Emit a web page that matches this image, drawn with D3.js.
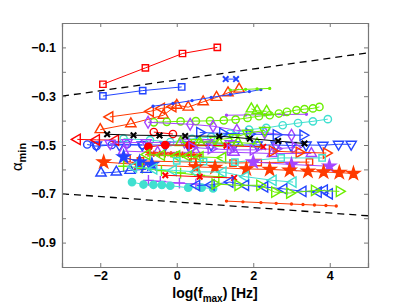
<!DOCTYPE html>
<meta charset="utf-8">
<style>
body { margin: 0; background: #fff; }
svg text { font-family: "Liberation Sans", Arial, sans-serif; font-weight: bold; fill: #000; }
.axis path, .axis line { stroke: #777; }
</style>
<svg width="407" height="307"></svg>
<script src="https://d3js.org/d3.v7.min.js"></script>
<script>

// the curves: [log f_max, alpha_min]
var redSq      = [[-1.93,-0.251],[-0.82,-0.184],[0.15,-0.125],[1.06,-0.100]];
var blueSq     = [[-1.93,-0.299],[-0.89,-0.277],[0.13,-0.262]];
var blueX      = [[1.28,-0.230],[1.55,-0.230]];
var orTri      = [[-2.0,-0.437],[-1.2,-0.413],[-0.35,-0.378],[0.0,-0.337],[0.3,-0.345],[0.69,-0.323],[1.04,-0.305],[1.34,-0.286],[1.63,-0.271]];
var orLeft     = [[-1.75,-0.385],[-0.69,-0.362],[-0.4,-0.35],[-0.1,-0.343]];
var blueDot    = [[-0.62,-0.341],[-0.1,-0.330],[0.4,-0.318],[0.9,-0.305],[1.4,-0.293],[1.9,-0.281],[2.2,-0.273]];
var greenDot   = [[1.4,-0.275],[1.8,-0.272],[2.1,-0.270],[2.43,-0.268]];
var greenCirc  = [[-0.6,-0.407],[-0.26,-0.405],[0.1,-0.403],[0.5,-0.402],[0.87,-0.401],[1.23,-0.399],[1.54,-0.396],[1.85,-0.389],[2.15,-0.382],[2.43,-0.378],[2.67,-0.371],[2.88,-0.364],[3.13,-0.357],[3.34,-0.353],[3.56,-0.350],[3.73,-0.344]];
var greenTri   = [[1.95,-0.352],[2.1,-0.36],[2.35,-0.362]];
var purpleDot  = [[1.3,-0.378],[1.8,-0.377],[2.3,-0.376],[2.8,-0.375],[3.39,-0.374]];
var purpleDia  = [[-0.75,-0.407],[0.35,-0.415],[0.95,-0.423],[1.57,-0.44],[2.3,-0.45],[3.0,-0.46]];
var cyanCirc   = [[-1.39,-0.474],[-0.7,-0.48],[-0.17,-0.488],[0.4,-0.475],[0.9,-0.467],[1.39,-0.453],[1.89,-0.437],[2.34,-0.430],[2.77,-0.419],[3.17,-0.410],[3.56,-0.403],[3.95,-0.394]];
var blueRight  = [[0.6,-0.449],[1.2,-0.452],[1.9,-0.455],[2.6,-0.458],[3.3,-0.460]];
var blackX     = [[-1.82,-0.456],[-1.13,-0.460],[-0.45,-0.461],[0.22,-0.463],[1.11,-0.464],[1.91,-0.474],[2.65,-0.484],[3.34,-0.494]];
var redCircO   = [[-0.6,-0.447],[-0.1,-0.455]];
var greenDown  = [[0.5,-0.49],[1.0,-0.48],[1.5,-0.47],[1.85,-0.452],[2.3,-0.44]];
var greenUp    = [[0.1,-0.49],[0.6,-0.49],[1.1,-0.492],[1.6,-0.49],[2.1,-0.495]];
var redLeft    = [[-2.6,-0.477],[-2.1,-0.479],[-1.6,-0.48]];
var blueDown   = [[-2.1,-0.5],[-1.5,-0.5],[-0.9,-0.5],[-0.3,-0.5],[0.3,-0.5],[0.9,-0.5],[1.5,-0.5],[2.1,-0.5],[2.6,-0.5],[2.99,-0.502],[3.38,-0.5],[3.82,-0.501],[4.23,-0.497],[4.56,-0.497]];
var blueCirc   = [[-2.34,-0.498],[-2.1,-0.505],[-1.7,-0.5],[-1.3,-0.497],[-0.9,-0.5]];
var purpleDown = [[-1.74,-0.494],[-1.3,-0.49],[-0.8,-0.49],[0.2,-0.488],[0.8,-0.49],[1.4,-0.495]];
var redCircF   = [[-0.74,-0.508],[-0.3,-0.5],[0.33,-0.501]];
var redXline   = [[0.4,-0.5],[1.3,-0.503],[2.26,-0.508]];
var purpleRight= [[0.4,-0.51],[0.9,-0.515],[1.4,-0.52],[2.0,-0.52],[2.6,-0.515],[3.1,-0.51]];
var purpleUp   = [[-1.39,-0.525],[-0.5,-0.53],[0.5,-0.53],[1.5,-0.53],[2.5,-0.535],[3.52,-0.535]];
var redDia     = [[2.5,-0.525],[3.2,-0.53],[3.91,-0.533]];
var redAst     = [[-0.75,-0.535],[-0.6,-0.536],[-0.45,-0.537],[-0.3,-0.538],[-0.15,-0.538],[0.0,-0.539],[0.15,-0.54],[0.3,-0.541],[0.45,-0.542],[0.6,-0.543]];
var greenLeft  = [[-0.78,-0.539],[-0.4,-0.542],[0.0,-0.545],[0.3,-0.547],[0.61,-0.549],[1.2,-0.552]];
var redSq2     = [[-1.3,-0.556],[-0.95,-0.565],[0.42,-0.57],[1.47,-0.574],[2.13,-0.572],[3.47,-0.57]];
var cyanSq     = [[0.0,-0.565],[0.7,-0.568],[1.52,-0.57],[2.73,-0.553],[3.8,-0.553]];
var purpleStar = [[2.0,-0.57],[3.0,-0.58],[3.99,-0.587]];
var blueStar   = [[-1.39,-0.549],[-0.97,-0.57],[-0.65,-0.58]];
var orStar     = [[-1.91,-0.57],[-1.0,-0.58],[0.5,-0.59],[1.0,-0.592],[1.82,-0.598],[2.43,-0.6],[2.95,-0.604],[3.43,-0.608],[3.84,-0.611],[4.25,-0.613],[4.62,-0.617]];
var greenPlus  = [[-1.39,-0.587],[-0.9,-0.595],[-0.4,-0.605],[0.1,-0.615],[0.6,-0.625],[1.1,-0.63]];
var blueUp     = [[-1.98,-0.615],[-1.58,-0.611],[-1.22,-0.604],[-0.8,-0.6]];
var cyanLeft   = [[-1.13,-0.59],[-0.6,-0.598],[-0.09,-0.604],[0.5,-0.61],[1.21,-0.611],[1.8,-0.63],[2.52,-0.645],[3.04,-0.652]];
var redX       = [[-0.3,-0.624],[0.6,-0.63],[1.5,-0.635]];
var purplePlus = [[-0.74,-0.645],[-0.43,-0.649],[0.07,-0.656],[0.5,-0.66]];
var cyanDot    = [[-1.17,-0.652],[-0.87,-0.662],[-0.61,-0.663],[-0.39,-0.664],[-0.17,-0.667],[0.3,-0.675],[0.65,-0.675],[0.95,-0.678]];
var blueLeft   = [[0.52,-0.666],[0.9,-0.663],[1.39,-0.652],[1.8,-0.665],[2.3,-0.672],[2.8,-0.68],[3.3,-0.69],[3.7,-0.693],[3.86,-0.685],[3.99,-0.7]];
var greenRight = [[1.0,-0.66],[1.6,-0.665],[2.17,-0.665],[2.56,-0.693],[2.95,-0.697],[3.6,-0.686],[4.25,-0.69]];
var redDot     = [[1.3,-0.73],[1.73,-0.733],[2.2,-0.736],[2.6,-0.739],[3.0,-0.742],[3.3,-0.744],[3.6,-0.746],[3.9,-0.748],[4.17,-0.75]];

// the two dashed bounds
var upperBound = [[-3,-0.3],[5,-0.122]];
var lowerBound = [[-3,-0.7],[5,-0.79]];

var xTicks = [-2, 0, 2, 4];
var yTicks = [-1, -0.9, -0.8, -0.7, -0.6, -0.5, -0.4, -0.3, -0.2, -0.1, 0];
var yLabelled = [-0.9, -0.7, -0.5, -0.3, -0.1];

var RED = "#ff0000", ORANGE = "#ff3a00", BLUE = "#2244ff", GREEN = "#6cee00",
    PURPLE = "#a544ff", CYAN = "#40e0d0";

// data, colour, marker
var series = [
  [redDot, ORANGE, "dot"],
  [blueDown, BLUE, "down"],
  [blueCirc, BLUE, "circle"],
  [redLeft, RED, "left"],
  [orTri, ORANGE, "up"],
  [orLeft, ORANGE, "left"],
  [blueDot, BLUE, "dot"],
  [greenDot, GREEN, "dot"],
  [purpleDot, PURPLE, "dot"],
  [greenCirc, GREEN, "circle"],
  [greenTri, GREEN, "up"],
  [purpleDia, PURPLE, "diamond"],
  [cyanCirc, CYAN, "circle"],
  [blueRight, BLUE, "right"],
  [redCircO, RED, "circle"],
  [greenDown, GREEN, "down"],
  [purpleDown, PURPLE, "down"],
  [greenUp, GREEN, "up"],
  [blackX, "#000", "x"],
  [redCircF, RED, "fcircle"],
  [redXline, RED, "x"],
  [purpleRight, PURPLE, "right"],
  [purpleUp, PURPLE, "up"],
  [redDia, ORANGE, "right"],
  [redAst, ORANGE, "ast"],
  [greenLeft, GREEN, "left"],
  [redSq2, ORANGE, "square"],
  [cyanSq, CYAN, "square"],
  [purpleStar, PURPLE, "star"],
  [orStar, ORANGE, "star"],
  [blueStar, BLUE, "star"],
  [greenPlus, GREEN, "plus"],
  [blueUp, BLUE, "up"],
  [cyanLeft, CYAN, "left"],
  [redX, RED, "x"],
  [purplePlus, PURPLE, "plus"],
  [cyanDot, CYAN, "fcircle"],
  [blueLeft, BLUE, "left"],
  [greenRight, GREEN, "right"],
  [blueX, BLUE, "x"],
  [blueSq, BLUE, "square"],
  [redSq, RED, "square"]
];

var svg = d3.select("svg");
var L = 62, R = 368, T = 23, B = 267;

var x = d3.scaleLinear().domain([-3, 5]).range([L, R]);
var y = d3.scaleLinear().domain([-1, 0]).range([B, T]);

var line = d3.line().x(d => x(d[0])).y(d => y(d[1]));

svg.append("rect")
    .attr("x", L).attr("y", T).attr("width", R - L).attr("height", B - T)
    .attr("fill", "#fff");

var plot = svg.append("g");

[upperBound, lowerBound].forEach(b => {
  plot.append("path")
      .attr("d", line(b))
      .attr("fill", "none")
      .attr("stroke", "#000")
      .attr("stroke-width", 1.3)
      .attr("stroke-dasharray", "7,5");
});

var sym = {
  circle: [d3.symbolCircle, 42, 0],
  fcircle: [d3.symbolCircle, 42, 0],
  square: [d3.symbolSquare, 40, 0],
  diamond: [d3.symbolDiamond, 40, 0],
  up: [d3.symbolTriangle, 46, 0],
  down: [d3.symbolTriangle, 46, 180],
  left: [d3.symbolTriangle, 46, -90],
  right: [d3.symbolTriangle, 46, 90],
  star: [d3.symbolStar, 50, 0],
  plus: [d3.symbolPlus, 40, 0],
  x: [d3.symbolTimes, 22, 0],
  ast: [d3.symbolAsterisk, 28, 0],
  dot: [d3.symbolCircle, 3, 0]
};
var filled = ["fcircle", "dot", "star"];

series.forEach(s => {
  var pts = s[0], col = s[1], m = sym[s[2]];
  var g = plot.append("g");
  g.append("path")
      .attr("d", line(pts))
      .attr("fill", "none")
      .attr("stroke", col)
      .attr("stroke-width", 1);
  g.selectAll("path.mk")
    .data(pts)
    .enter().append("path")
      .attr("class", "mk")
      .attr("d", d3.symbol().type(m[0]).size(m[1]))
      .attr("transform", d => "translate(" + x(d[0]) + "," + y(d[1]) + ") rotate(" + m[2] + ")")
      .attr("fill", filled.indexOf(s[2]) >= 0 ? col : "none")
      .attr("stroke", col)
      .attr("stroke-width", s[2] == "x" ? 2 : 1.4);
});

// axes, matlab style: ticks inside on all four sides
var fmt = d3.format(".1f");

svg.append("g")
    .attr("class", "axis")
    .attr("transform", "translate(0," + B + ")")
    .call(d3.axisBottom(x).tickValues(xTicks).tickSize(-4).tickPadding(4).tickFormat(d3.format("d")))
    .call(g => g.selectAll("text").attr("font-size", 12.5));

svg.append("g")
    .attr("class", "axis")
    .attr("transform", "translate(0," + T + ")")
    .call(d3.axisTop(x).tickValues(xTicks).tickSize(-4).tickFormat(""));

svg.append("g")
    .attr("class", "axis")
    .attr("transform", "translate(" + L + ",0)")
    .call(d3.axisLeft(y).tickValues(yTicks).tickSize(-4).tickPadding(6)
      .tickFormat(d => yLabelled.some(v => Math.abs(v - d) < 1e-9) ? fmt(d) : ""))
    .call(g => g.selectAll("text").attr("font-size", 12.5));

svg.append("g")
    .attr("class", "axis")
    .attr("transform", "translate(" + R + ",0)")
    .call(d3.axisRight(y).tickValues(yTicks).tickSize(-4).tickFormat(""));

svg.selectAll(".axis path.domain").attr("stroke-width", 1.2);

// axis titles
var xt = svg.append("text")
    .attr("x", (L + R) / 2)
    .attr("y", 298)
    .attr("text-anchor", "middle")
    .attr("font-size", 14);
xt.append("tspan").text("log(f");
xt.append("tspan").attr("font-size", 10).attr("dy", 4).text("max");
xt.append("tspan").attr("dy", -4).text(") [Hz]");

var yt = svg.append("text")
    .attr("transform", "translate(22," + ((T + B) / 2 + 12) + ") rotate(-90)")
    .attr("text-anchor", "middle")
    .attr("font-size", 15);
yt.append("tspan").attr("font-weight", "normal").text("α");
yt.append("tspan").attr("font-size", 11).attr("dy", 4).text("min");

</script>
